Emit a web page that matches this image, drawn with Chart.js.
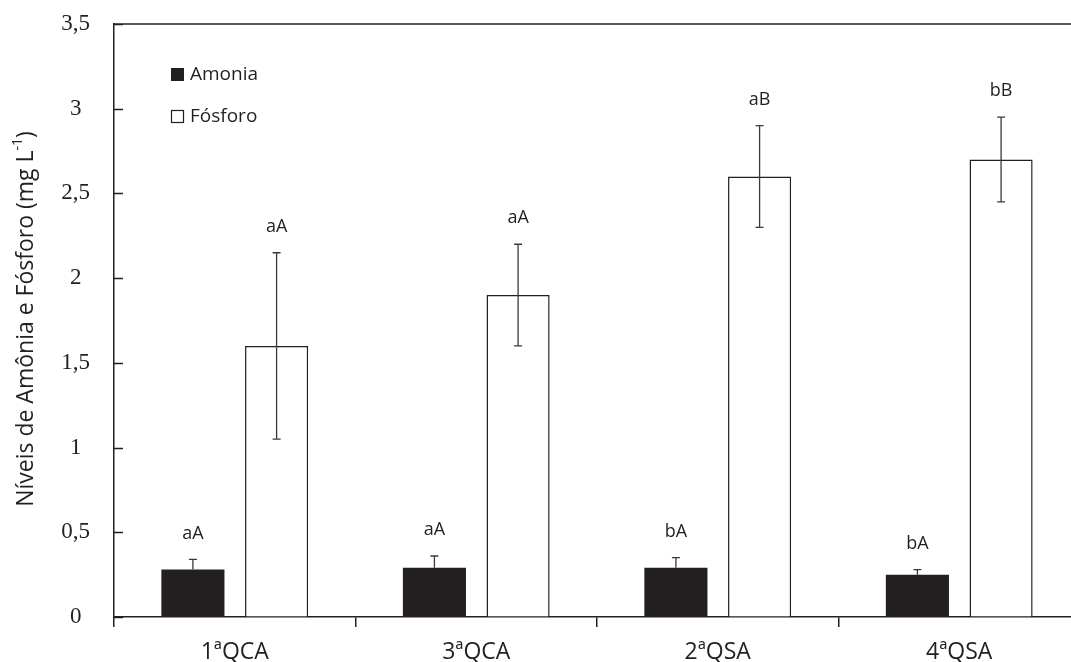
<!DOCTYPE html>
<html>
<head>
<meta charset="utf-8">
<script src="https://cdn.jsdelivr.net/npm/chart.js@4/dist/chart.umd.min.js"></script>
<style>
html, body { margin: 0; padding: 0; background: #fff; overflow: hidden; }
#wrap { width: 1090px; height: 662px; }
</style>
</head>
<body>
<div id="wrap"><canvas id="chart" width="1090" height="662"></canvas></div>
<script>
// --- data ---
const categories = ['1ªQCA', '3ªQCA', '2ªQSA', '4ªQSA'];
const amonia = [0.28, 0.29, 0.29, 0.25];
const amoniaErr = [0.06, 0.07, 0.06, 0.03];
const fosforo = [1.6, 1.9, 2.6, 2.7];
const fosforoErr = [0.55, 0.3, 0.3, 0.25];
const amoniaLetters = ['aA', 'aA', 'bA', 'bA'];
const fosforoLetters = ['aA', 'aA', 'aB', 'bB'];
const yTicks = [0, 0.5, 1, 1.5, 2, 2.5, 3, 3.5];
const yTickLabels = ['0', '0,5', '1', '1,5', '2', '2,5', '3', '3,5'];

const ink = '#231f20';
const sans = '"Open Sans", sans-serif';

// error bars, letters, inward ticks, frame, legend, axis title
const extras = {
  id: 'extras',
  afterDatasetsDraw(chart) {
    const c = chart.ctx, a = chart.chartArea, y = chart.scales.y;
    c.save();
    c.lineWidth = 1.3;
    c.strokeStyle = '#3a3a3a';
    chart.data.datasets.forEach((ds, di) => {
      chart.getDatasetMeta(di).data.forEach((bar, i) => {
        const top = y.getPixelForValue(ds.data[i] + ds.err[i]);
        // dark bars hide the lower half of their bar
        const bot = ds.solid ? bar.y : y.getPixelForValue(ds.data[i] - ds.err[i]);
        c.beginPath();
        c.moveTo(bar.x, top); c.lineTo(bar.x, bot);
        c.moveTo(bar.x - 4, top); c.lineTo(bar.x + 4, top);
        if (!ds.solid) { c.moveTo(bar.x - 4, bot); c.lineTo(bar.x + 4, bot); }
        c.stroke();
        c.fillStyle = ink;
        c.font = '18px ' + sans;
        c.textAlign = 'center';
        c.textBaseline = 'middle';
        c.fillText(ds.letters[i], bar.x, top - 26);
      });
    });

    // inward y ticks
    c.strokeStyle = ink;
    c.lineWidth = 1.5;
    c.beginPath();
    yTicks.forEach(v => {
      const p = Math.round(y.getPixelForValue(v)) + 0.5;
      c.moveTo(a.left, p); c.lineTo(a.left + 9, p);
    });
    // top frame line
    c.moveTo(a.left, a.top); c.lineTo(chart.width, a.top);
    c.stroke();

    // legend
    c.font = '19px ' + sans;
    c.textAlign = 'left';
    c.textBaseline = 'middle';
    c.fillStyle = ink;
    c.fillRect(171, 68, 13, 13);
    c.fillText(chart.data.datasets[0].label, 190, 75);
    c.lineWidth = 1.2;
    c.strokeRect(171.5, 110.5, 12, 12);
    c.fillText(chart.data.datasets[1].label, 190, 117);

    // y title with superscript
    c.translate(26, 319);
    c.rotate(-Math.PI / 2);
    const main = 'Níveis de Amônia e Fósforo (mg L', sup = '-1', end = ')';
    c.font = '23px ' + sans;
    const w1 = c.measureText(main).width, w3 = c.measureText(end).width;
    c.font = '14px ' + sans;
    const w2 = c.measureText(sup).width;
    let x = -(w1 + w2 + w3) / 2;
    c.font = '23px ' + sans;
    c.fillText(main, x, 0);
    c.font = '14px ' + sans;
    c.fillText(sup, x + w1, -8);
    c.font = '23px ' + sans;
    c.fillText(end, x + w1 + w2, 0);
    c.restore();
  }
};

new Chart(document.getElementById('chart').getContext('2d'), {
  type: 'bar',
  data: {
    labels: categories,
    datasets: [
      { label: 'Amonia', data: amonia, err: amoniaErr, letters: amoniaLetters, solid: true,
        backgroundColor: ink, borderColor: ink, borderWidth: 0 },
      { label: 'Fósforo', data: fosforo, err: fosforoErr, letters: fosforoLetters,
        backgroundColor: '#fff', borderColor: ink, borderWidth: 1.5 }
    ]
  },
  options: {
    responsive: false,
    animation: false,
    layout: { padding: { top: 24, right: 10, left: 0, bottom: 0 } },
    datasets: { bar: { categoryPercentage: 0.693, barPercentage: 0.754 } },
    plugins: { legend: { display: false }, tooltip: { enabled: false } },
    scales: {
      x: {
        grid: { drawOnChartArea: false, offset: true, tickLength: 10, color: ink, lineWidth: 1.5 },
        border: { color: ink, width: 1.5 },
        ticks: { color: ink, font: { family: 'Open Sans', size: 23 }, padding: 12 },
        afterFit: s => { s.height = 45; s.paddingLeft = 0; s.paddingRight = 0; }
      },
      y: {
        min: 0, max: 3.5,
        afterBuildTicks: s => { s.ticks = yTicks.map(v => ({ value: v })); },
        ticks: {
          callback: (v, i) => yTickLabels[i],
          color: ink, font: { family: 'Liberation Serif', size: 23 },
          crossAlign: 'center', padding: 24
        },
        grid: { drawOnChartArea: false, drawTicks: false },
        border: { color: ink, width: 1.5 },
        afterFit: s => { s.width = 114; s.paddingTop = 0; s.paddingBottom = 0; }
      }
    }
  },
  plugins: [extras]
});
</script>
</body>
</html>
